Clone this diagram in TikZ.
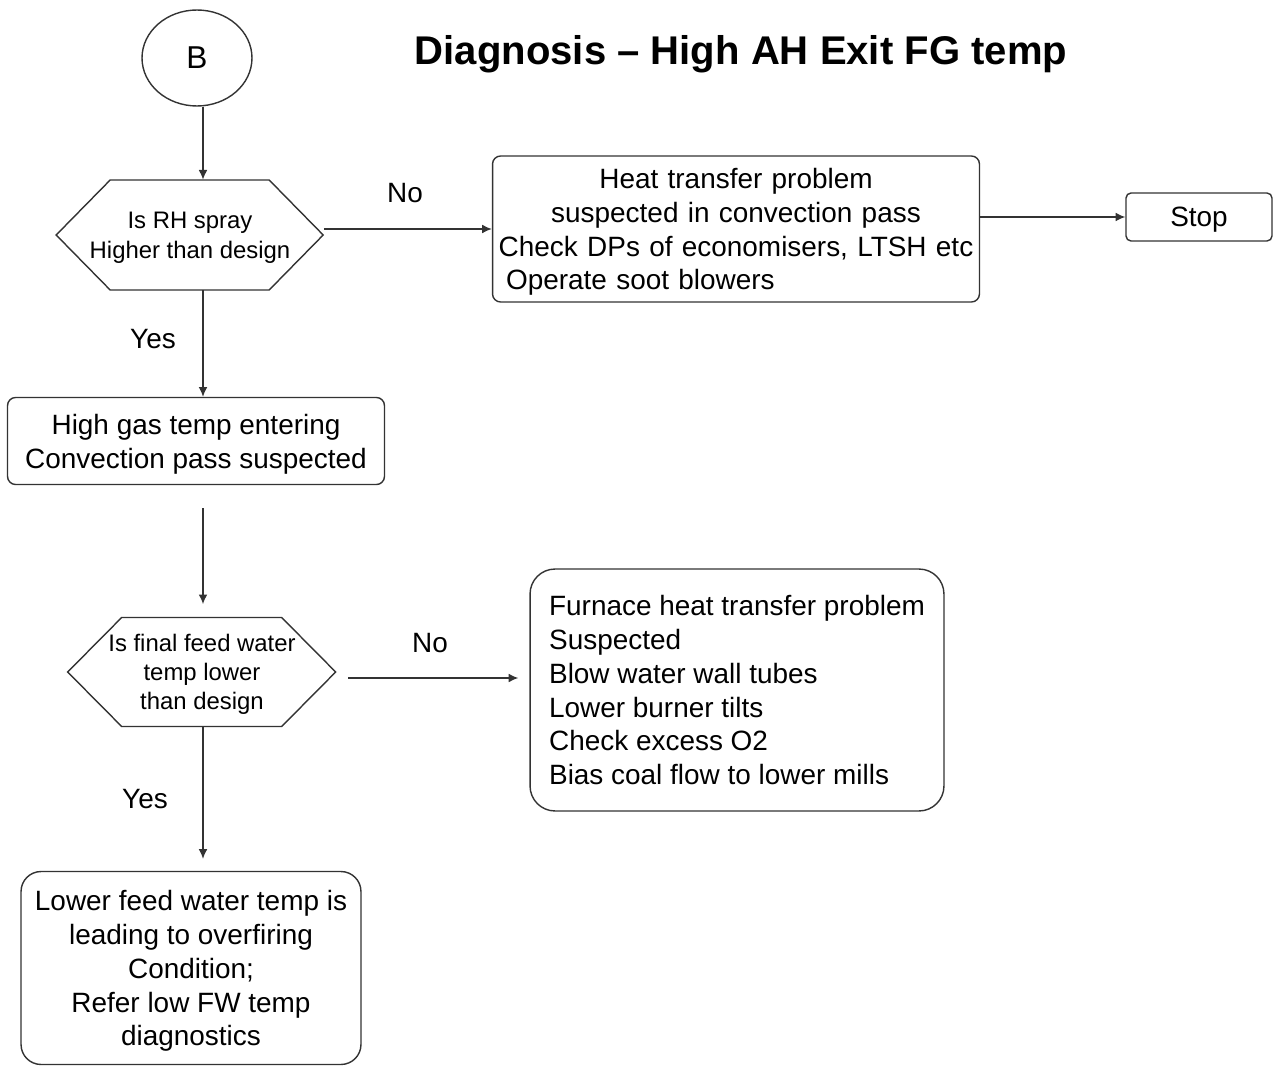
\documentclass[tikz,border=0pt]{standalone}
\usepackage{fontspec}
\setmainfont{Liberation Sans}
\usetikzlibrary{shapes.geometric,arrows.meta}

\tikzset{
  line/.style={draw=black!80,line width=0.8pt},
  arr/.style={line,-{Latex[length=5.5pt,width=5pt]}},
  txt/.style={font=\fontsize{15.9}{19.3}\selectfont},
  box/.style={txt,line,rounded corners=0.16cm,align=center,inner sep=0pt,text depth=0pt},
  hexa/.style={font=\fontsize{13.6}{17}\selectfont,align=center,inner sep=0pt,text depth=0pt},
}

\begin{document}
\begin{tikzpicture}[x=0.02cm,y=-0.02cm]
\pgfmathsetmacro{\spinex}{203}
\pgfmathsetmacro{\tip}{54}
\useasboundingbox (0,0) rectangle (1277,1067);
\coordinate (spine) at (\spinex,0);
\node[line,ellipse,minimum width=2.2cm,minimum height=1.92cm,font=\fontsize{18}{20}\selectfont] (B) at (197,58) {B};
\node[font=\fontsize{22.8}{27}\selectfont\bfseries] (title) at (741,54) {Diagnosis – High AH Exit FG temp};
\node[hexa,minimum width=5.34cm,minimum height=2.2cm] (rhspray) at (190,235) {Is RH spray\\Higher than design};
\draw[line] (rhspray.west) -- ++(\tip,-55) -- ++(159,0) -- ++(\tip,55) -- ++(-\tip,55) -- ++(-159,0) -- cycle;
\node[box,minimum width=9.74cm,minimum height=2.92cm,text width=9.6cm,text height=11.5pt,text depth=57.9pt] (heat) at (736,229)
  {Heat transfer problem\\suspected in convection pass\\Check DPs of economisers, LTSH etc\\\hbox to\hsize{\hspace{0.2cm}Operate soot blowers\hfil}};
\node[box,minimum width=2.92cm,minimum height=0.96cm,rounded corners=0.1cm] (stop) at (1199,217) {Stop};
\node[box,minimum width=7.54cm,minimum height=1.74cm] (gasin) at (196,441) {High gas temp entering\\Convection pass suspected};
\node[hexa,minimum width=5.36cm,minimum height=2.18cm,font=\fontsize{13.6}{16.5}\selectfont] (feed) at (202,672) {Is final feed water\\temp lower\\than design};
\draw[line] (feed.west) -- ++(\tip,-54.5) -- ++(160,0) -- ++(\tip,54.5) -- ++(-\tip,54.5) -- ++(-160,0) -- cycle;
\node[box,rounded corners=0.5cm,minimum width=8.28cm,minimum height=4.84cm,align=left] (furnace) at (737,690)
  {Furnace heat transfer problem\\Suspected\\Blow water wall tubes\\Lower burner tilts\\Check excess O2\\Bias coal flow to lower mills};
\node[box,rounded corners=0.4cm,minimum width=6.8cm,minimum height=3.86cm] (lowfw) at (191,968)
  {Lower feed water temp is\\leading to overfiring\\Condition;\\Refer low FW temp\\diagnostics};
\node[txt] (no1) at (405,193) {No};
\node[txt] (yes1) at (153,339) {Yes};
\node[txt] (no2) at (430,643) {No};
\node[txt] (yes2) at (145,799) {Yes};
\draw[arr] (B.south -| spine) -- (rhspray.north -| spine);
\draw[arr] (rhspray.east |- heat.west) -- (heat.west);
\draw[arr] (heat.east |- stop.west) -- (stop.west);
\draw[arr] (rhspray.south -| spine) -- (gasin.north -| spine);
\draw[arr,shorten <=0.46cm,shorten >=0.26cm] (gasin.south -| spine) -- (feed.north -| spine);
\draw[arr,shorten <=0.24cm,shorten >=0.22cm] ([yshift=-0.12cm]feed.east) -- ([yshift=-0.12cm]feed.east -| furnace.west);
\draw[arr,shorten >=0.24cm] (feed.south -| spine) -- (lowfw.north -| spine);
\end{tikzpicture}
\end{document}
